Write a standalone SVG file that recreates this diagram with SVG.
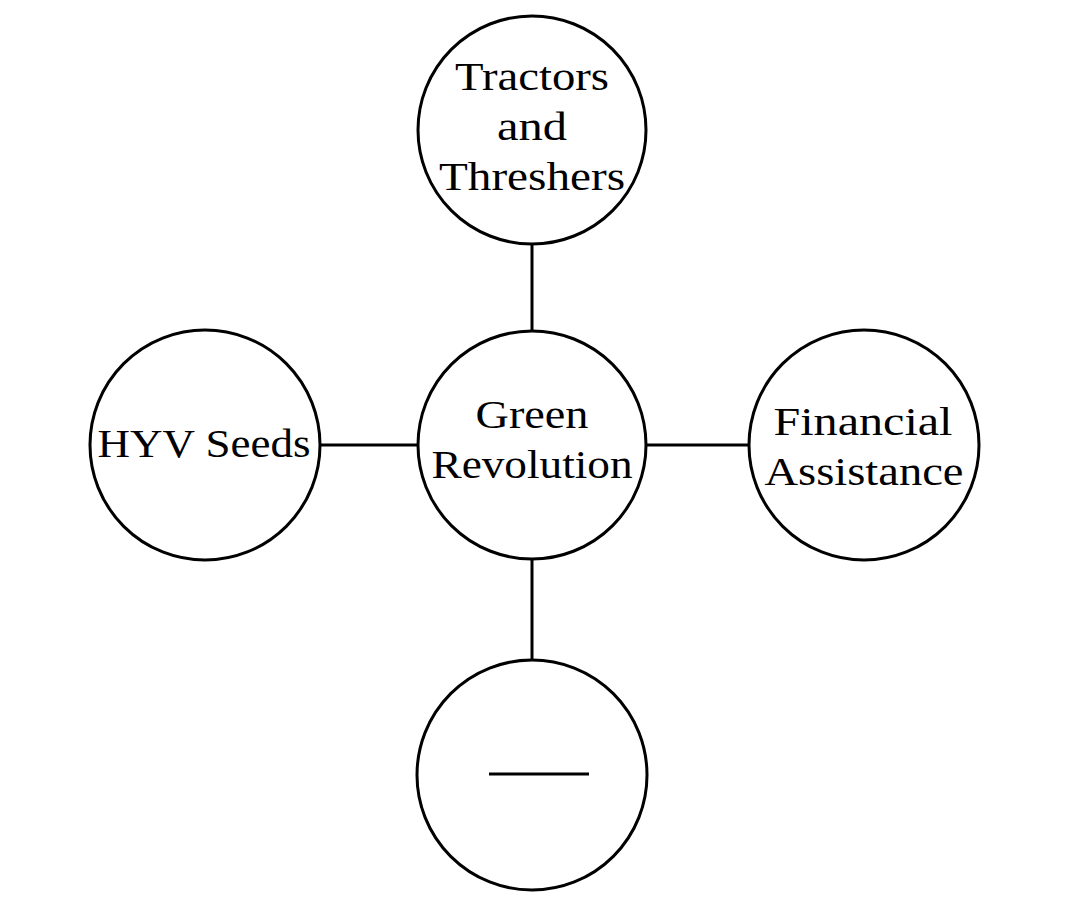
<svg xmlns="http://www.w3.org/2000/svg" width="1078" height="904" viewBox="0 0 1078 904">
<style>
circle{fill:#fff;stroke:#000;stroke-width:3}
line{stroke:#000;stroke-width:3}
text{font-family:"Liberation Serif",serif;font-size:40px;text-anchor:middle;fill:#000}
</style>
<rect width="1078" height="904" fill="#fff"/>
<g id="connectors">
<line x1="532" y1="244" x2="532" y2="331"/>
<line x1="320" y1="445" x2="418" y2="445"/>
<line x1="646" y1="445" x2="750" y2="445"/>
<line x1="532" y1="559" x2="532" y2="660"/>
</g>
<g id="top"><circle cx="532" cy="130" r="114"/>
<text x="532" y="90" textLength="154" lengthAdjust="spacingAndGlyphs">Tractors</text>
<text x="532" y="140" textLength="70" lengthAdjust="spacingAndGlyphs">and</text>
<text x="532" y="190" textLength="186" lengthAdjust="spacingAndGlyphs">Threshers</text></g>
<g id="center"><circle cx="532" cy="445" r="114"/>
<text x="532" y="428" textLength="113" lengthAdjust="spacingAndGlyphs">Green</text>
<text x="532" y="478" textLength="201" lengthAdjust="spacingAndGlyphs">Revolution</text></g>
<g id="left"><circle cx="205" cy="445" r="115"/>
<text x="204" y="457" textLength="213" lengthAdjust="spacingAndGlyphs">HYV Seeds</text></g>
<g id="right"><circle cx="864" cy="445" r="115"/>
<text x="863" y="435" textLength="179" lengthAdjust="spacingAndGlyphs">Financial</text>
<text x="864" y="485" textLength="199" lengthAdjust="spacingAndGlyphs">Assistance</text></g>
<g id="bottom"><circle cx="532" cy="775" r="115"/>
<line x1="489" y1="774" x2="589" y2="774"/></g>
</svg>
